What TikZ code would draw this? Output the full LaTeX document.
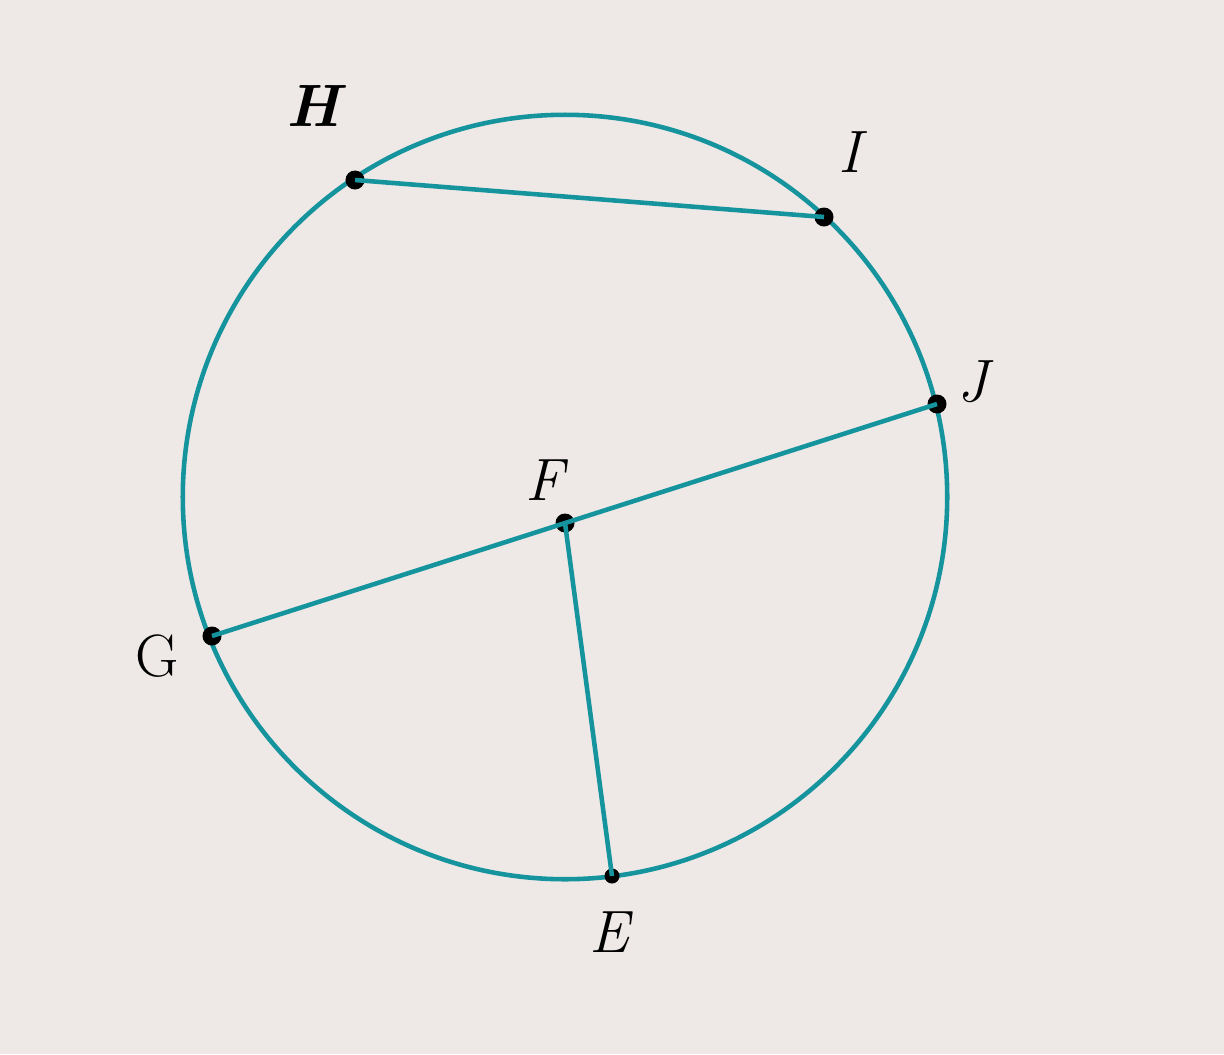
\documentclass[tikz,border=0pt]{standalone}
\usepackage{tikz}
\definecolor{teal1}{RGB}{22,148,158}
\definecolor{bg}{RGB}{238,233,231}
\begin{document}
\begin{tikzpicture}[x=0.01cm,y=-0.01cm,
  geo/.style={draw=teal1,line width=1.3pt},
  dotpt/.style={circle,fill=black,inner sep=0pt,minimum size=0.19cm},
  lab/.style={font=\fontsize{17}{20}\selectfont\itshape},
  labup/.style={font=\fontsize{17}{20}\selectfont}]
\fill[bg] (0,0) rectangle (1224,1054);
\useasboundingbox (0,0) rectangle (1224,1054);
\coordinate (O) at (565,497);
\draw[geo] (O) circle[radius=3.82cm];
\node[dotpt] (H) at (355,180) {};
\node[dotpt] (I) at (824,217) {};
\node[dotpt] (J) at (937,404) {};
\node[dotpt] (F) at (565,523) {};
\node[dotpt] (G) at (212,636) {};
\node[dotpt,minimum size=0.15cm] (E) at (612,876) {};
\draw[geo] (H.center) -- (I.center);
\draw[geo] (G.center) -- (J.center);
\draw[geo] (F.center) -- (E.center);
\node[lab,font=\fontsize{17}{20}\selectfont\bfseries\itshape] (lH) at (313,106) {H};
\node[lab] (lI) at (850,152) {I};
\node[lab] (lJ) at (973,382) {J};
\node[lab] (lF) at (545,480) {F};
\node[labup] (lG) at (157,656) {G};
\node[lab] (lE) at (609,932) {E};
\end{tikzpicture}
\end{document}
